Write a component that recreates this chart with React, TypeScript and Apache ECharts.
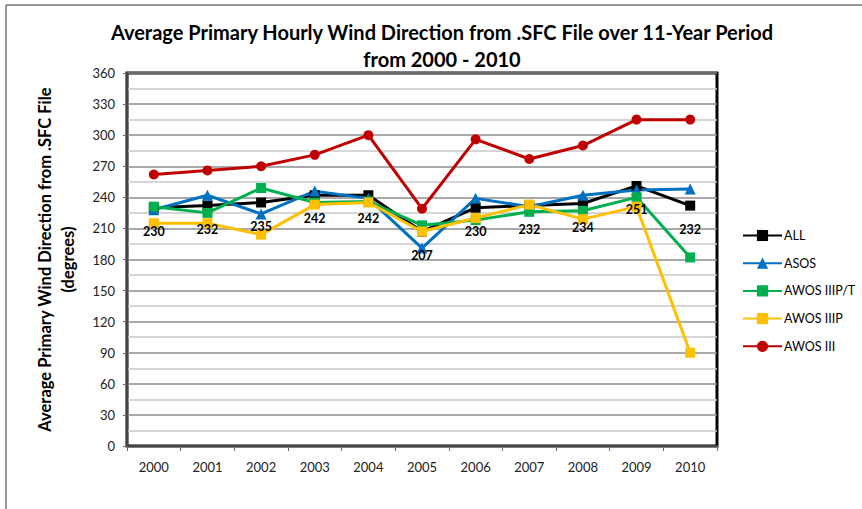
import React, { useEffect, useRef } from "react";
import * as echarts from "echarts";

const years = ["2000", "2001", "2002", "2003", "2004", "2005", "2006", "2007", "2008", "2009", "2010"];
const allValues = [230, 232, 235, 242, 242, 207, 230, 232, 234, 251, 232];
const asosValues = [228, 242, 224, 246, 239, 191, 239, 231, 242, 247, 248];
const awosIIIPTValues = [231, 225, 249, 235, 236, 213, 218, 226, 227, 240, 182];
const awosIIIPValues = [215, 215, 204, 233, 235, 207, 220, 233, 219, 231, 90];
const awosIIIValues = [262, 266, 270, 281, 300, 229, 296, 277, 290, 315, 315];

const FONT = "Lato, 'Open Sans', sans-serif";

export default function App() {
  const ref = useRef<HTMLDivElement>(null);
  useEffect(() => {
    document.body.style.margin = "0";
    const chart = echarts.init(ref.current!, null, { renderer: "svg" });
    const mk = (name: string, data: number[], color: string, symbol: string, size: number, extra: any = {}) => ({
      name,
      type: "line",
      data,
      symbol,
      symbolSize: size,
      itemStyle: { color },
      lineStyle: { color, width: 3 },
      ...extra,
    });
    chart.setOption({
      animation: false,
      backgroundColor: "#fff",
      textStyle: { fontFamily: FONT },
      title: {
        text: "Average Primary Hourly Wind Direction from .SFC File over 11-Year Period\nfrom 2000 - 2010",
        left: 437,
        top: 13,
        textAlign: "center",
        textStyle: { fontFamily: FONT, fontSize: 20, fontWeight: "bold", color: "#000", lineHeight: 27 },
      },
      legend: {
        orient: "vertical",
        left: 737,
        top: 224,
        itemWidth: 39,
        itemHeight: 14,
        itemGap: 14.7,
        textStyle: { fontFamily: FONT, fontSize: 12.5, color: "#000", padding: [0, 0, 0, -3] },
        data: ["ALL", "ASOS", "AWOS IIIP/T", "AWOS IIIP", "AWOS III"],
      },
      graphic: [
        {
          type: "rect",
          shape: { x: 6, y: 5, width: 900, height: 600 },
          style: { fill: "none", stroke: "#333", lineWidth: 1 },
          silent: true,
          z: -1,
        },
      ],
      grid: {
        left: 127,
        right: 145,
        top: 73,
        bottom: 63,
        show: true,
        borderColor: "#000",
        borderWidth: 3,
        backgroundColor: "transparent",
      },
      xAxis: {
        type: "category",
        data: years,
        boundaryGap: true,
        axisLine: { show: true, lineStyle: { color: "#444", width: 2 } },
        axisTick: { show: true, length: 5, inside: false, lineStyle: { color: "#666" } },
        axisLabel: { fontFamily: FONT, fontSize: 13, color: "#222", margin: 14 },
        splitLine: { show: false },
      },
      yAxis: {
        type: "value",
        min: 0,
        max: 360,
        interval: 30,
        name: "Average Primary Wind Direction from .SFC File\n(degrees)",
        nameLocation: "middle",
        nameGap: 48,
        nameTextStyle: { fontFamily: FONT, fontSize: 16.5, fontWeight: "bold", color: "#000", lineHeight: 23 },
        axisLine: { show: true, lineStyle: { color: "#444", width: 2 } },
        axisTick: { show: true, length: 4, lineStyle: { color: "#666" } },
        axisLabel: { fontFamily: FONT, fontSize: 13, color: "#222", margin: 12 },
        splitLine: { show: true, lineStyle: { color: "#8c8c8c", width: 1.5 } },
        minorTick: { show: false, splitNumber: 2 },
        minorSplitLine: { show: true, lineStyle: { color: "#c8c8c8", width: 1.5 } },
      },
      series: [
        mk("ALL", allValues, "#000000", "rect", 10, {
          label: {
            show: true,
            position: "bottom",
            distance: 12,
            fontFamily: FONT,
            fontSize: 12.5,
            fontWeight: "bold",
            color: "#000",
          },
        }),
        mk("ASOS", asosValues, "#0070C0", "triangle", 11),
        mk("AWOS IIIP/T", awosIIIPTValues, "#00B050", "rect", 10),
        mk("AWOS IIIP", awosIIIPValues, "#FFC000", "rect", 10),
        mk("AWOS III", awosIIIValues, "#C00000", "circle", 10),
      ],
    });
    return () => chart.dispose();
  }, []);
  return <div ref={ref} style={{ width: 862, height: 509 }} />;
}
